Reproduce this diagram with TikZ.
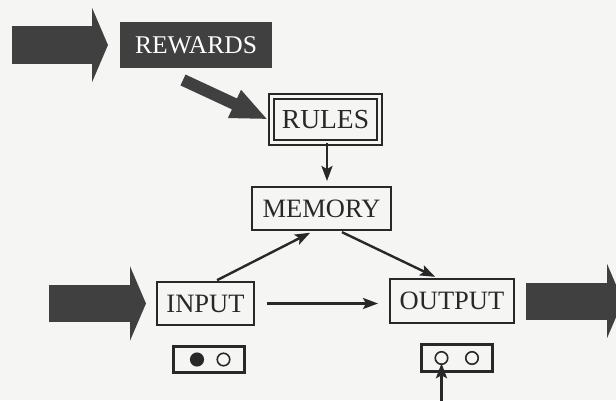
\documentclass[tikz,border=0pt]{standalone}
\usepackage{fontspec}
\setmainfont{Liberation Serif}
\usetikzlibrary{arrows.meta}
\definecolor{bg}{RGB}{245,246,243}
\definecolor{dark}{RGB}{64,64,64}
\definecolor{ink}{RGB}{40,40,40}
\begin{document}
\begin{tikzpicture}[x=1pt,y=-1pt,
  box/.style={draw=ink, line width=2.2pt, fill=bg, inner sep=0pt, outer sep=0pt,
    font=\fontsize{26.5}{30}\selectfont, text=ink},
  thinarrow/.style={draw=ink, line width=2.4pt, -{Stealth[length=15pt,width=11pt,inset=3pt]}},
  bigarrow/.style={draw=dark, line width=37pt, -{Triangle[length=16pt,width=74pt]}},
  dot/.style={circle, draw=ink, line width=1.6pt, inner sep=0pt, outer sep=0pt, minimum size=12.5pt},
]
\fill[bg] (0,0) rectangle (616,400);
\useasboundingbox (0,0) rectangle (616,400);
\clip (0,0) rectangle (616,400);

% nodes
\node[box, fill=dark, draw=none, text=white, font=\fontsize{25.5}{30}\selectfont, minimum width=152pt, minimum height=46pt] (rewards) at (196,45) {REWARDS};
\node[box, double=bg, line width=2.2pt, double distance=2.8pt, minimum width=108pt, minimum height=46pt, font=\fontsize{27.5}{30}\selectfont] (rules) at (325.5,119.5) {RULES};
\node[box, minimum width=139pt, minimum height=43pt] (memory) at (321.5,208.5) {MEMORY};
\node[box, minimum width=97pt, minimum height=43pt] (input) at (205.5,303.5) {INPUT};
\node[box, minimum width=124pt, minimum height=44pt] (output) at (452,301) {OUTPUT};
\node[box, minimum width=71pt, minimum height=26pt] (inbox) at (209,359.5) {};
\node[box, minimum width=71pt, minimum height=27pt] (outbox) at (457,358) {};
\node[dot, fill=ink] (i1) at (197,359.5) {};
\node[dot] (i2) at (223.5,359.5) {};
\node[dot] (o1) at (441.5,358) {};
\node[dot] (o2) at (472,358) {};

% big arrows
\draw[bigarrow, line width=38pt] ([xshift=-108pt]rewards.west) -- ([xshift=-12pt]rewards.west);
\draw[bigarrow] ([xshift=-108pt]input.west) -- ([xshift=-11pt]input.west);
\draw[bigarrow] ([xshift=12pt]output.east) -- ([xshift=109pt]output.east);
\coordinate (dtail) at (183,80);
\draw[draw=dark, line width=12pt, -{Triangle[length=37pt,width=28pt]}] (dtail) -- ([xshift=-3.5pt]rules.west);

% connectors
\draw[thinarrow, shorten >=6pt] ([xshift=1.5pt]rules.south) -- ([xshift=1.5pt]rules.south |- memory.north);
\draw[thinarrow, shorten <=4pt, shorten >=6pt] ([xshift=8pt]input.north) -- ([xshift=-6pt]memory.south);
\draw[thinarrow, shorten <=5pt, shorten >=5pt] ([xshift=16pt]memory.south) -- ([xshift=-12.4pt]output.north);
\draw[thinarrow, shorten <=13pt, shorten >=12pt] (input.east) -- (output.west |- input.east);
\coordinate (ub) at (441.5,402);
\draw[thinarrow, shorten >=-1pt] (ub) -- (o1.south);
\end{tikzpicture}
\end{document}
